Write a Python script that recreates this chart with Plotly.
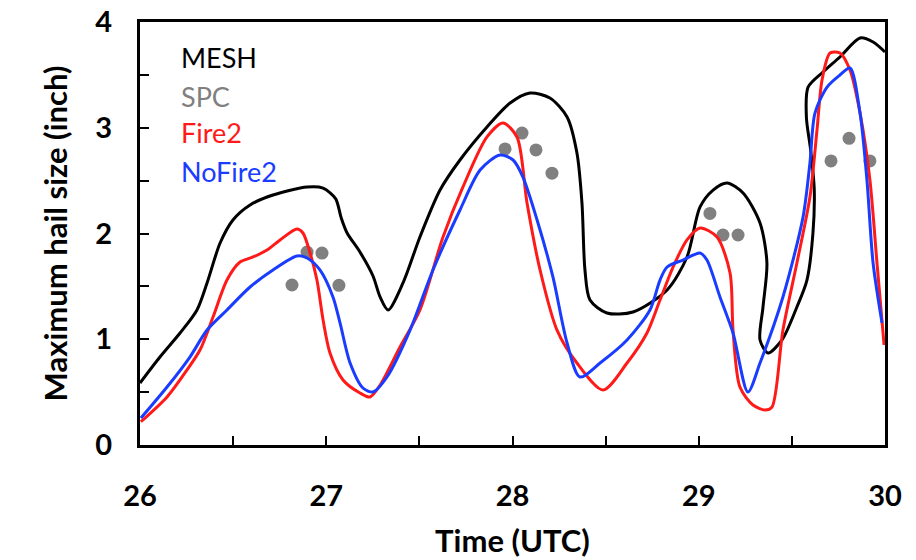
import plotly.graph_objects as go

# MESH (black) - curve loops back in time near day 29.3-29.6
mesh_x = [26.000, 26.107, 26.215, 26.306, 26.360, 26.430, 26.499, 26.591, 26.714, 26.897,
          26.983, 27.050, 27.080, 27.112, 27.181, 27.251, 27.289, 27.332, 27.412, 27.503,
          27.611, 27.718, 27.863, 27.987, 28.094, 28.201, 28.293, 28.346, 28.373, 28.389,
          28.416, 28.507, 28.647, 28.830, 28.937, 29.007, 29.077, 29.152, 29.238, 29.329,
          29.366, 29.345, 29.329, 29.372, 29.447, 29.527, 29.581, 29.613, 29.620, 29.600,
          29.578, 29.587, 29.667, 29.758, 29.866, 29.936, 30.000]
mesh_y = [0.586, 0.832, 1.059, 1.277, 1.532, 1.910, 2.128, 2.270, 2.364, 2.440,
          2.430, 2.330, 2.150, 2.005, 1.825, 1.598, 1.400, 1.277, 1.532, 1.967,
          2.411, 2.695, 3.007, 3.234, 3.329, 3.281, 3.102, 2.761, 2.288, 1.655,
          1.371, 1.248, 1.258, 1.466, 1.778, 2.251, 2.411, 2.478, 2.383, 2.099,
          1.721, 1.305, 0.993, 0.870, 0.993, 1.305, 1.560, 2.000, 2.420, 2.800,
          3.100, 3.385, 3.527, 3.669, 3.849, 3.811, 3.716]

fire_x = [26.005, 26.145, 26.252, 26.322, 26.392, 26.467, 26.537, 26.607, 26.682, 26.752,
          26.843, 26.875, 26.913, 26.950, 26.983, 27.020, 27.090, 27.181, 27.235, 27.289,
          27.396, 27.503, 27.627, 27.734, 27.863, 27.949, 28.024, 28.078, 28.148, 28.239,
          28.346, 28.486, 28.615, 28.722, 28.792, 28.862, 28.937, 29.007, 29.098, 29.168,
          29.184, 29.221, 29.291, 29.356, 29.393, 29.452, 29.527, 29.597, 29.635, 29.662,
          29.705, 29.758, 29.812, 29.866, 29.919, 29.957, 29.995]
fire_y = [0.220, 0.454, 0.709, 0.898, 1.210, 1.560, 1.730, 1.778, 1.844, 1.939,
          2.043, 2.005, 1.816, 1.560, 1.182, 0.870, 0.615, 0.492, 0.454, 0.567,
          0.927, 1.277, 1.967, 2.440, 2.913, 3.045, 2.913, 2.288, 1.655, 1.087,
          0.775, 0.520, 0.775, 1.059, 1.371, 1.683, 1.939, 2.052, 1.967, 1.626,
          1.087, 0.548, 0.378, 0.331, 0.359, 1.087, 1.721, 2.345, 2.979, 3.452,
          3.707, 3.707, 3.546, 3.139, 2.506, 1.721, 0.946]

nofire_x = [26.005, 26.145, 26.268, 26.360, 26.467, 26.591, 26.714, 26.843, 26.897, 26.966,
            27.036, 27.074, 27.128, 27.197, 27.251, 27.326, 27.450, 27.573, 27.718, 27.826,
            27.933, 28.003, 28.056, 28.132, 28.217, 28.293, 28.362, 28.470, 28.615, 28.738,
            28.792, 28.830, 28.915, 29.007, 29.044, 29.114, 29.184, 29.264, 29.329, 29.452,
            29.560, 29.597, 29.624, 29.689, 29.758, 29.812, 29.866, 29.903, 29.936, 29.984]
nofire_y = [0.255, 0.548, 0.832, 1.087, 1.277, 1.494, 1.655, 1.787, 1.768, 1.655,
            1.400, 1.154, 0.775, 0.539, 0.501, 0.643, 1.087, 1.655, 2.222, 2.600,
            2.742, 2.695, 2.534, 2.128, 1.589, 0.965, 0.643, 0.775, 0.993, 1.277,
            1.560, 1.683, 1.749, 1.816, 1.749, 1.400, 1.059, 0.501, 0.775, 1.400,
            2.156, 2.667, 3.139, 3.385, 3.499, 3.565, 3.139, 2.506, 1.721, 1.154]

spc_x = [26.816, 26.897, 26.977, 27.068, 27.960, 28.051, 28.126, 28.212,
         29.060, 29.130, 29.211, 29.710, 29.807, 29.919]
spc_y = [1.513, 1.825, 1.815, 1.510, 2.800, 2.950, 2.790, 2.570,
         2.190, 1.986, 1.986, 2.686, 2.900, 2.686]

legend_labels = ["MESH", "SPC", "Fire2", "NoFire2"]
legend_colors = ["#000000", "#808080", "#ff1a1a", "#1a3cff"]

fig = go.Figure()
fig.add_trace(go.Scatter(x=mesh_x, y=mesh_y, mode="lines",
                         line=dict(color="#000000", width=3, shape="spline", smoothing=0.8)))
fig.add_trace(go.Scatter(x=spc_x, y=spc_y, mode="markers",
                         marker=dict(color="#808080", size=13)))
fig.add_trace(go.Scatter(x=fire_x, y=fire_y, mode="lines",
                         line=dict(color="#ff1a1a", width=3, shape="spline", smoothing=0.8)))
fig.add_trace(go.Scatter(x=nofire_x, y=nofire_y, mode="lines",
                         line=dict(color="#1a3cff", width=3, shape="spline", smoothing=0.8)))

ys = [0.915, 0.823, 0.738, 0.646]
for lab, col, yy in zip(legend_labels, legend_colors, ys):
    fig.add_annotation(xref="paper", yref="paper", x=0.052, y=yy,
                       text=lab, showarrow=False, xanchor="left", yanchor="middle",
                       font=dict(family="Lato", size=27, color=col))

axis_common = dict(showline=True, linecolor="black", linewidth=3, mirror=True,
                   ticks="inside", ticklen=9, tickwidth=2, tickcolor="black",
                   showgrid=False, zeroline=False, automargin=False,
                   tickfont=dict(family="Lato", size=29, color="black", weight="bold"),
                   minor=dict(dtick=0.5, ticks="inside", ticklen=9, tickwidth=2, tickcolor="black"))

fig.update_layout(
    width=916, height=560,
    margin=dict(l=140, r=31, t=22, b=115),
    plot_bgcolor="white", paper_bgcolor="white",
    showlegend=False,
    xaxis=dict(range=[26, 30], dtick=1, ticklabelstandoff=23,
               title=dict(text="Time (UTC)", standoff=20,
                          font=dict(family="Lato", size=31, color="black", weight="bold")),
               **axis_common),
    yaxis=dict(range=[0, 4], dtick=1, ticklabelstandoff=19,
               title=dict(text="Maximum hail size (inch)", standoff=19,
                          font=dict(family="Lato", size=31, color="black", weight="bold")),
               **axis_common),
)

fig.write_html("out.html")
